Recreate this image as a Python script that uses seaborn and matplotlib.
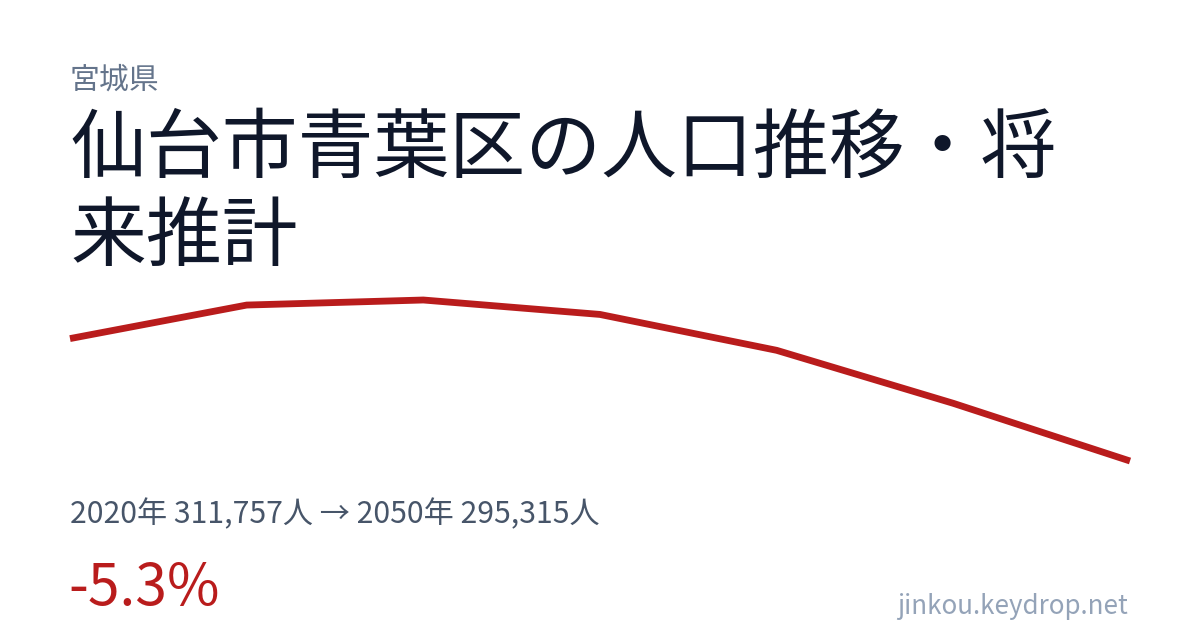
import matplotlib
matplotlib.use("Agg")
import matplotlib.pyplot as plt
import seaborn as sns
import pandas as pd

# population by year (2020 actual, later years projected)
years = [2020, 2025, 2030, 2035, 2040, 2045, 2050]
population = [311757, 316260, 316940, 315000, 310180, 303060, 295315]

prefecture = "宮城県"
title = "仙台市青葉区の人口推移・将\n来推計"
summary = "2020年 311,757人 → 2050年 295,315人"
change = "-5.3%"
footer = "jinkou.keydrop.net"

sns.set_theme(style="white")
plt.rcParams['font.family'] = ['Noto Sans CJK JP', 'DejaVu Sans']

W, H = 1200, 630
fig = plt.figure(figsize=(W / 100, H / 100), dpi=100)
fig.patch.set_facecolor("white")

def fx(px):
    return px / W

def fy(py):
    return 1 - py / H

# plot area: line spans x 70..1130, y 300..461 px
ax = fig.add_axes([fx(70), fy(461), fx(1130) - fx(70), fy(300) - fy(461)])
df = pd.DataFrame({"year": years, "population": population})
sns.lineplot(data=df, x="year", y="population", ax=ax, color="#b91c1c",
             linewidth=4.9, clip_on=False, solid_capstyle="butt",
             solid_joinstyle="miter")
ax.set_xlim(min(years), max(years))
ax.set_ylim(min(population), max(population))
ax.axis("off")

fig.text(fx(70), fy(80), prefecture, fontsize=21.5, color="#64748b", va="center", ha="left")
fig.text(fx(70), fy(112), title, fontsize=54.6, color="#0f172a", va="top", ha="left",
         linespacing=1.19)
fig.text(fx(70), fy(515), summary, fontsize=21.7, color="#475569", va="center", ha="left")
fig.text(fx(68), fy(589), change, fontsize=41, color="#b91c1c", va="center", ha="left")
fig.text(fx(1128), fy(606), footer, fontsize=18.7, color="#94a3b8", va="center", ha="right")

fig.savefig("out.png", dpi=100, facecolor="white")
